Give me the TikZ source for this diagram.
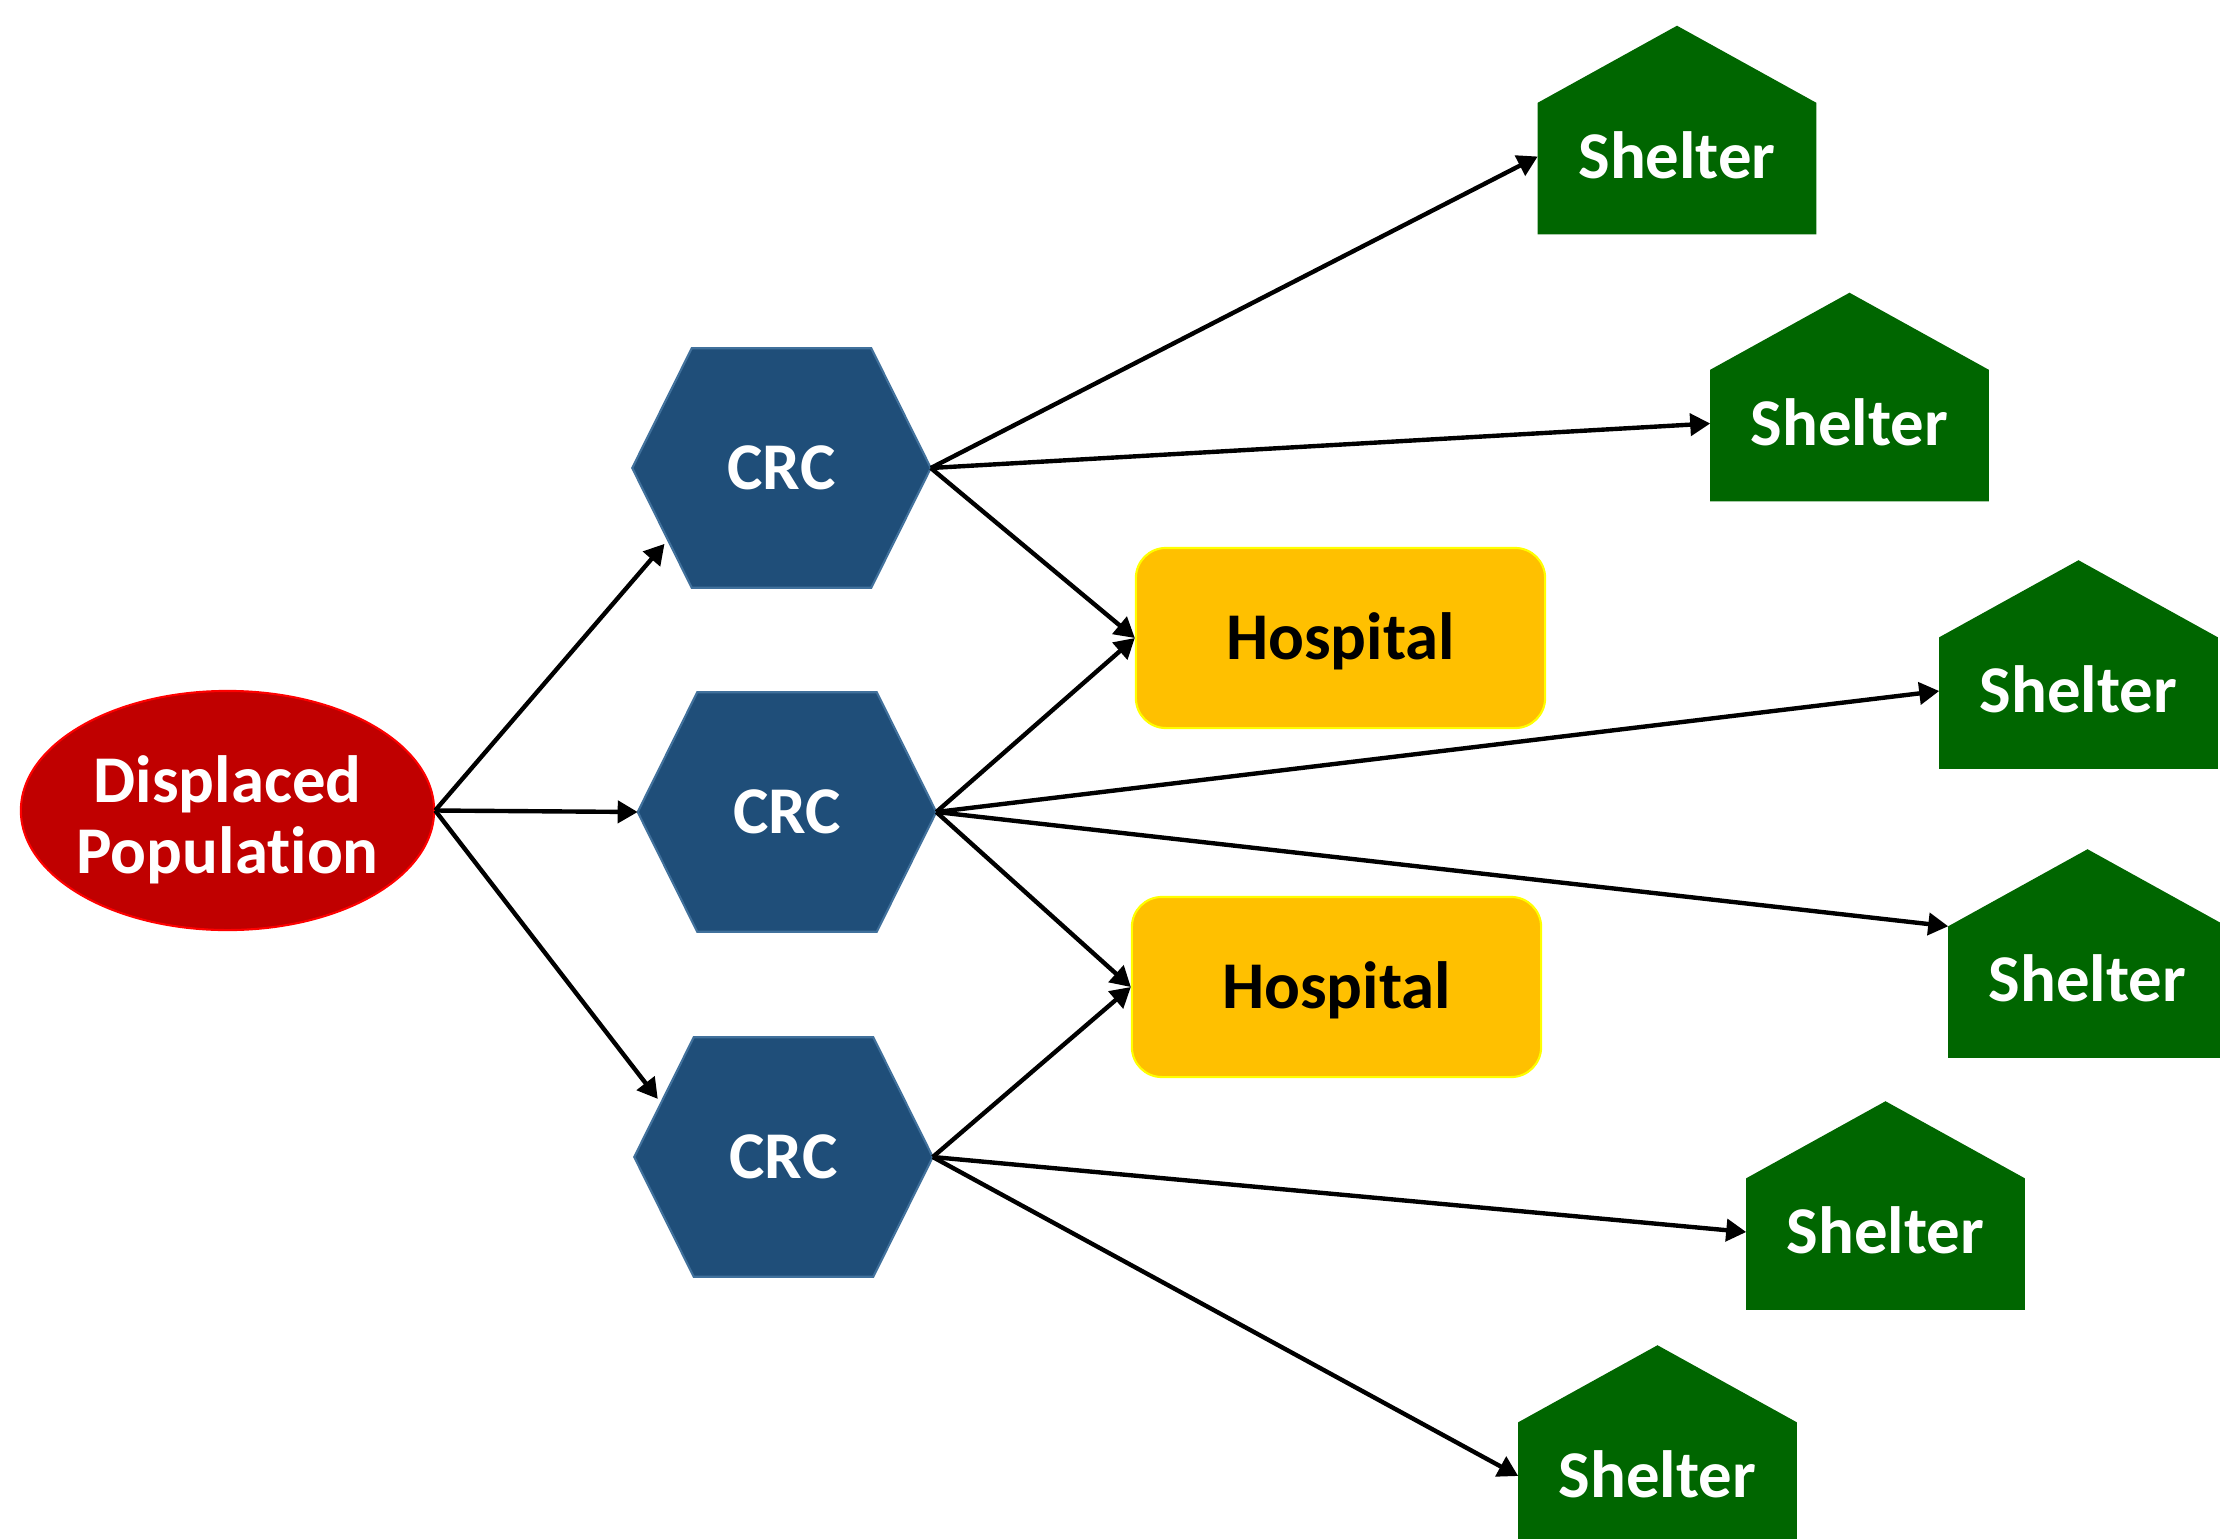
\documentclass[tikz,border=0pt]{standalone}
\usepackage{fontspec}
\setmainfont[Ligatures=NoCommon]{Carlito}
\usetikzlibrary{arrows.meta,calc,shapes.geometric}
\pgfdeclarelayer{paper}
\pgfdeclarelayer{shapes}
\pgfsetlayers{paper,shapes,main}
\definecolor{popred}{HTML}{C00000}
\definecolor{popedge}{HTML}{FF0000}
\definecolor{crcblue}{HTML}{1F4E79}
\definecolor{crcedge}{HTML}{41719C}
\definecolor{hospfill}{HTML}{FFC000}
\definecolor{hospedge}{HTML}{FFFF00}
\definecolor{shelgreen}{HTML}{006600}
\begin{document}
\begin{tikzpicture}[x=0.01cm,y=-0.01cm,
  lbl/.style={font=\fontsize{19}{20.3}\selectfont\bfseries},
  popnode/.style={lbl, ellipse, fill=popred, draw=popedge, line width=0.6pt, text=white,
    minimum width=4.13cm, minimum height=2.39cm, inner ysep=0pt, inner xsep=-0.25cm,
    align=center, text width=3.3cm},
  crc/.style={lbl, rectangle, minimum width=2.97cm, minimum height=2.38cm, inner sep=0pt,
    text=white, text height=0.43cm, text depth=0pt},
  hosp/.style={lbl, rectangle, rounded corners=0.3cm, fill=hospfill, draw=hospedge, line width=0.6pt,
    minimum width=4.09cm, minimum height=1.8cm, inner sep=0pt, text=black, text height=0.43cm, text depth=0pt},
  shelter/.style={lbl, rectangle, minimum width=2.77cm, minimum height=1.06cm, inner sep=0pt,
    text=white, text height=0.43cm, text depth=0pt},
  hexfill/.style={fill=crcblue, draw=crcedge, line width=0.6pt},
  housefill/.style={fill=shelgreen},
  link/.style={-{Triangle[length=0.2cm,width=0.22cm]}, line width=1.25pt, black},
]
\useasboundingbox (0,0) rectangle (2220,1539);
\begin{pgfonlayer}{paper}
\fill[white] (0,0) rectangle (2220,1539);
\end{pgfonlayer}
\clip (0,0) rectangle (2220,1539);

% nodes
\node[popnode] (pop) at (227.5,810.5) {\rule{0pt}{18.5pt}Displaced\\Population};
\node[crc] (h1) at (781.5,468) {CRC};
\node[crc] (h2) at (787,812) {CRC};
\node[crc] (h3) at (783.5,1157) {CRC};
\node[hosp] (H1) at (1340.5,638) {Hospital};
\node[hosp] (H2) at (1336.5,987) {Hospital};
\node[shelter] (S1) at (1677,156.5) {Shelter};
\node[shelter] (S2) at (1849.5,423.5) {Shelter};
\node[shelter] (S3) at (2078.5,691) {Shelter};
\node[shelter] (S4) at (2087.5,980) {Shelter};
\node[shelter] (S5) at (1885.5,1232) {Shelter};
\node[shelter] (S6) at (1657.5,1476) {Shelter};

% shapes behind the labels
\begin{pgfonlayer}{shapes}
  \foreach \h in {h1,h2,h3}{
    \path[hexfill] (\h.west) -- ([xshift=0.595cm]\h.north west) -- ([xshift=-0.595cm]\h.north east)
      -- (\h.east) -- ([xshift=-0.595cm]\h.south east) -- ([xshift=0.595cm]\h.south west) -- cycle;
  }
  \foreach \s in {S1,S2,S3,S4,S5,S6}{
    \path[housefill] (\s.north west) -- ([yshift=0.77cm]\s.north) -- (\s.north east)
      -- ([yshift=-0.24cm]\s.south east) -- ([yshift=-0.24cm]\s.south west) -- cycle;
  }
\end{pgfonlayer}

% arrow targets on the slanted sides of the hexagons
\coordinate (h1in) at ($(h1.west)!0.6!([xshift=0.595cm]h1.south west)$);
\coordinate (h3in) at ($(h3.west)!0.45!([xshift=0.595cm]h3.north west)$);

% connectors
\draw[link, shorten >=1.5pt] (pop.east) -- (h1in);
\draw[link] (pop.east) -- (h2.west);
\draw[link, shorten >=1.5pt] (pop.east) -- (h3in);

\draw[link] (h1.east) -- (S1.west);
\draw[link] (h1.east) -- (S2.west);
\draw[link] (h1.east) -- (H1.west);

\draw[link] (h2.east) -- (H1.west);
\draw[link] (h2.east) -- (S3.west);
\draw[link] (h2.east) -- (S4.north west);
\draw[link] (h2.east) -- (H2.west);

\draw[link] (h3.east) -- (H2.west);
\draw[link] (h3.east) -- (S5.west);
\draw[link] (h3.east) -- (S6.west);
\end{tikzpicture}
\end{document}
